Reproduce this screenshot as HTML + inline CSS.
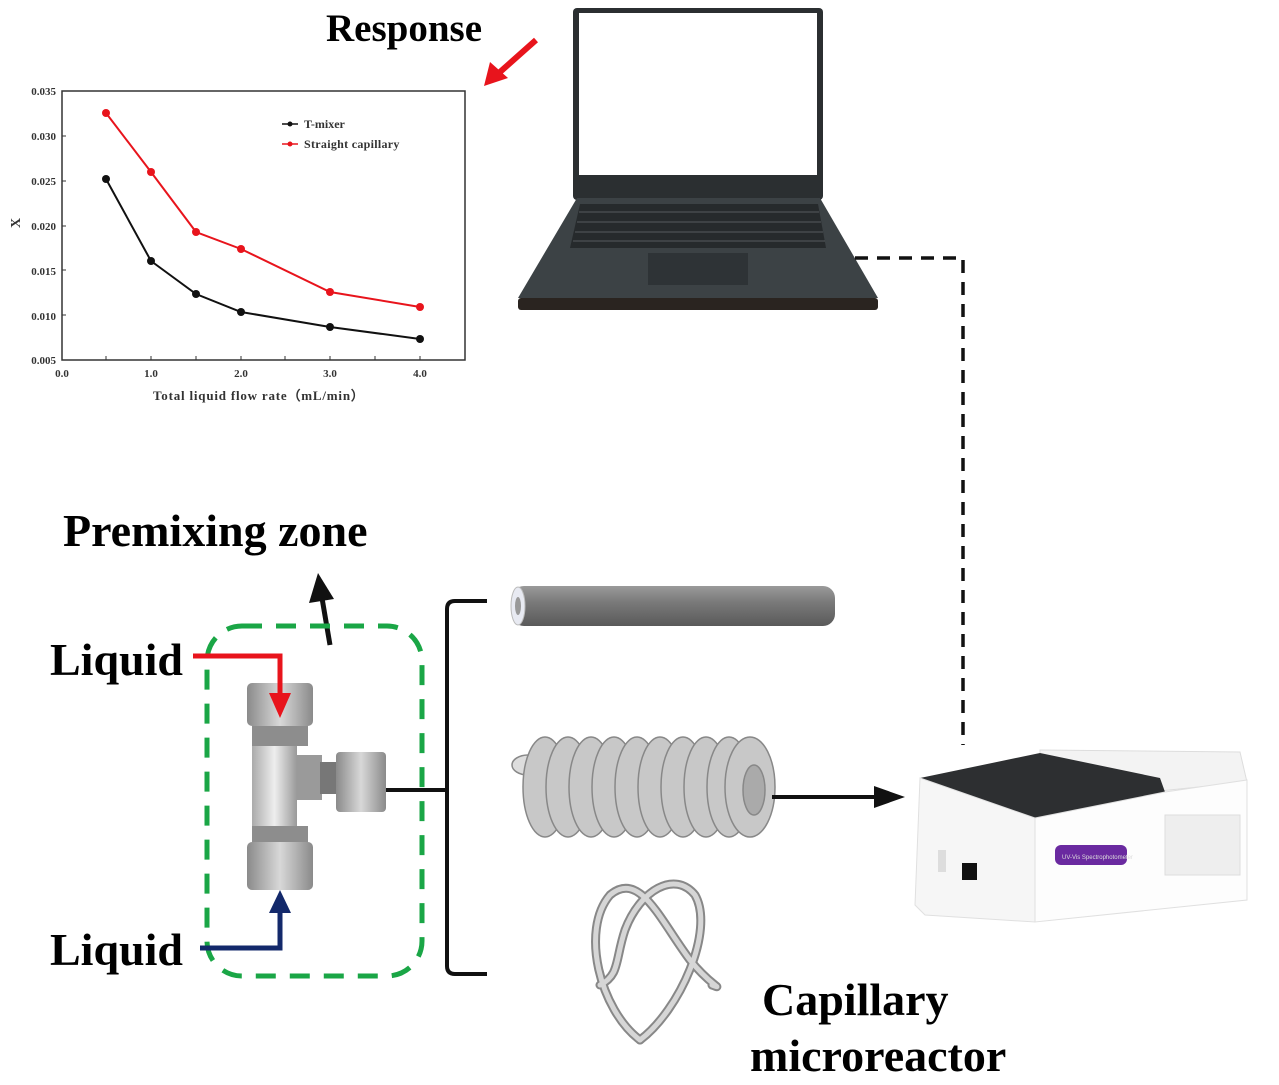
<!DOCTYPE html>
<html><head><meta charset="utf-8"><style>
html,body{margin:0;padding:0;background:#fff;}
svg{display:block;}
text{font-family:"Liberation Serif",serif;}
</style></head><body>
<svg width="1279" height="1085" viewBox="0 0 1279 1085" xmlns="http://www.w3.org/2000/svg">
<defs>
<linearGradient id="tube" x1="0" y1="0" x2="0" y2="1"><stop offset="0" stop-color="#9a9a9a"/><stop offset="0.4" stop-color="#7a7a7a"/><stop offset="1" stop-color="#5a5a5a"/></linearGradient>
<linearGradient id="metal" x1="0" y1="0" x2="1" y2="0"><stop offset="0" stop-color="#8a8a8a"/><stop offset="0.5" stop-color="#d8d8d8"/><stop offset="1" stop-color="#8a8a8a"/></linearGradient>
<linearGradient id="ring" x1="0" y1="0" x2="1" y2="0"><stop offset="0" stop-color="#aaa"/><stop offset="0.5" stop-color="#eee"/><stop offset="1" stop-color="#999"/></linearGradient>
</defs>

<!-- Response -->
<text x="326" y="41" font-size="39" font-weight="bold">Response</text>
<line x1="536" y1="40" x2="500" y2="72" stroke="#e8141c" stroke-width="6"/>
<polygon points="484,86 490,62 508,78" fill="#e8141c"/>

<!-- Chart -->
<rect x="62" y="91" width="403" height="269" fill="none" stroke="#333" stroke-width="1.5"/>
<g font-size="11" font-weight="bold" fill="#333">
<text x="56" y="95" text-anchor="end">0.035</text>
<text x="56" y="140" text-anchor="end">0.030</text>
<text x="56" y="185" text-anchor="end">0.025</text>
<text x="56" y="230" text-anchor="end">0.020</text>
<text x="56" y="275" text-anchor="end">0.015</text>
<text x="56" y="320" text-anchor="end">0.010</text>
<text x="56" y="364" text-anchor="end">0.005</text>
<text x="62" y="377" text-anchor="middle">0.0</text>
<text x="151" y="377" text-anchor="middle">1.0</text>
<text x="241" y="377" text-anchor="middle">2.0</text>
<text x="330" y="377" text-anchor="middle">3.0</text>
<text x="420" y="377" text-anchor="middle">4.0</text>
<text x="153" y="400" font-size="13" letter-spacing="0.8">Total liquid flow rate（mL/min）</text>
<text x="16" y="232" font-size="14" transform="rotate(-90 16 228)">X</text>
</g>
<g stroke="#333" stroke-width="1">
<line x1="62" y1="136" x2="66" y2="136"/><line x1="62" y1="181" x2="66" y2="181"/><line x1="62" y1="226" x2="66" y2="226"/><line x1="62" y1="270" x2="66" y2="270"/><line x1="62" y1="315" x2="66" y2="315"/>
<line x1="106" y1="360" x2="106" y2="356"/><line x1="151" y1="360" x2="151" y2="356"/><line x1="196" y1="360" x2="196" y2="356"/><line x1="241" y1="360" x2="241" y2="356"/><line x1="285" y1="360" x2="285" y2="356"/><line x1="330" y1="360" x2="330" y2="356"/><line x1="375" y1="360" x2="375" y2="356"/><line x1="420" y1="360" x2="420" y2="356"/>
</g>
<polyline points="106,179 151,261 196,294 241,312 330,327 420,339" fill="none" stroke="#111" stroke-width="2"/>
<polyline points="106,113 151,172 196,232 241,249 330,292 420,307" fill="none" stroke="#e8141c" stroke-width="2"/>
<g fill="#111"><circle cx="106" cy="179" r="4"/><circle cx="151" cy="261" r="4"/><circle cx="196" cy="294" r="4"/><circle cx="241" cy="312" r="4"/><circle cx="330" cy="327" r="4"/><circle cx="420" cy="339" r="4"/></g>
<g fill="#e8141c"><circle cx="106" cy="113" r="4"/><circle cx="151" cy="172" r="4"/><circle cx="196" cy="232" r="4"/><circle cx="241" cy="249" r="4"/><circle cx="330" cy="292" r="4"/><circle cx="420" cy="307" r="4"/></g>
<line x1="282" y1="124" x2="298" y2="124" stroke="#111" stroke-width="1.5"/><circle cx="290" cy="124" r="2.5" fill="#111"/>
<line x1="282" y1="144" x2="298" y2="144" stroke="#e8141c" stroke-width="1.5"/><circle cx="290" cy="144" r="2.5" fill="#e8141c"/>
<text x="304" y="128" font-size="12" font-weight="bold" fill="#333">T-mixer</text>
<text x="304" y="148" font-size="12" font-weight="bold" fill="#333" letter-spacing="0.3">Straight capillary</text>

<!-- Laptop -->
<rect x="573" y="8" width="250" height="192" rx="4" fill="#2b2f31"/>
<rect x="579" y="13" width="238" height="162" fill="#fff"/>
<polygon points="577,198 820,198 878,298 518,298" fill="#3c4245"/>
<rect x="518" y="298" width="360" height="12" rx="3" fill="#2a2420"/>
<polygon points="580,204 818,204 826,248 570,248" fill="#262a2c"/>
<g stroke="#555b5e" stroke-width="1">
<line x1="579" y1="212" x2="819" y2="212"/><line x1="577" y1="222" x2="821" y2="222"/><line x1="575" y1="232" x2="823" y2="232"/><line x1="573" y1="241" x2="825" y2="241"/>
</g>
<rect x="648" y="253" width="100" height="32" fill="#2e3336"/>

<!-- dashed connection -->
<polyline points="855,258 963,258 963,745" fill="none" stroke="#111" stroke-width="3.5" stroke-dasharray="13,9"/>

<!-- Premixing -->
<text x="63" y="546" font-size="46" font-weight="bold">Premixing zone</text>
<line x1="330" y1="645" x2="322" y2="598" stroke="#111" stroke-width="5"/>
<polygon points="318,573 309,603 334,599" fill="#111"/>
<rect x="207" y="626" width="215" height="350" rx="35" fill="none" stroke="#1aa646" stroke-width="5" stroke-dasharray="20,14"/>

<!-- T fitting -->
<rect x="247" y="683" width="66" height="43" rx="5" fill="url(#metal)"/>
<rect x="252" y="726" width="56" height="20" fill="#8d8d8d"/>
<rect x="252" y="746" width="45" height="80" fill="url(#ring)"/>
<rect x="297" y="755" width="25" height="45" fill="#9a9a9a"/>
<rect x="320" y="762" width="18" height="32" fill="#777"/>
<rect x="336" y="752" width="50" height="60" rx="4" fill="url(#metal)"/>
<rect x="252" y="826" width="56" height="16" fill="#8d8d8d"/>
<rect x="247" y="842" width="66" height="48" rx="5" fill="url(#metal)"/>

<!-- liquid arrows -->
<text x="50" y="675" font-size="46" font-weight="bold">Liquid</text>
<text x="50" y="965" font-size="46" font-weight="bold">Liquid</text>
<polyline points="193,656 280,656 280,695" fill="none" stroke="#e8141c" stroke-width="5"/>
<polygon points="269,693 291,693 280,718" fill="#e8141c"/>
<polyline points="200,948 280,948 280,912" fill="none" stroke="#13296b" stroke-width="5"/>
<polygon points="269,913 291,913 280,890" fill="#13296b"/>

<!-- bracket -->
<line x1="386" y1="790" x2="447" y2="790" stroke="#111" stroke-width="4"/>
<path d="M487,601 H455 Q447,601 447,609 V966 Q447,974 455,974 H487" fill="none" stroke="#111" stroke-width="4"/>

<!-- straight tube -->
<rect x="512" y="586" width="323" height="40" rx="12" fill="url(#tube)"/>
<ellipse cx="518" cy="606" rx="7" ry="19" fill="#e8eaf2" stroke="#bbb"/>
<ellipse cx="518" cy="606" rx="3" ry="9" fill="#999"/>

<!-- coil -->
<g fill="#c8c8c8" stroke="#888" stroke-width="1.5">
<ellipse cx="528" cy="765" rx="16" ry="10" fill="#ddd"/>
<ellipse cx="545" cy="787" rx="22" ry="50"/>
<ellipse cx="568" cy="787" rx="22" ry="50"/>
<ellipse cx="591" cy="787" rx="22" ry="50"/>
<ellipse cx="614" cy="787" rx="22" ry="50"/>
<ellipse cx="637" cy="787" rx="22" ry="50"/>
<ellipse cx="660" cy="787" rx="22" ry="50"/>
<ellipse cx="683" cy="787" rx="22" ry="50"/>
<ellipse cx="706" cy="787" rx="22" ry="50"/>
<ellipse cx="729" cy="787" rx="22" ry="50"/>
<ellipse cx="750" cy="787" rx="25" ry="50"/>
<ellipse cx="754" cy="790" rx="11" ry="25" fill="#aaa"/>
</g>
<line x1="772" y1="797" x2="880" y2="797" stroke="#111" stroke-width="4"/>
<polygon points="905,797 874,786 874,808" fill="#111"/>

<!-- knot -->
<g fill="none" stroke="#888" stroke-width="9" stroke-linecap="round">
<path d="M640,1040 C600,1010 580,930 610,895 C640,870 660,920 690,960 C710,985 725,990 712,985"/>
<path d="M640,1040 C680,1010 715,930 695,895 C675,870 640,890 625,930 C615,960 620,975 600,985"/>
</g>
<g fill="none" stroke="#d6d6d6" stroke-width="5" stroke-linecap="round">
<path d="M640,1040 C600,1010 580,930 610,895 C640,870 660,920 690,960 C710,985 725,990 712,985"/>
<path d="M640,1040 C680,1010 715,930 695,895 C675,870 640,890 625,930 C615,960 620,975 600,985"/>
</g>
<text x="762" y="1015" font-size="46" font-weight="bold">Capillary</text>
<text x="750" y="1071" font-size="46" font-weight="bold">microreactor</text>

<!-- instrument -->
<polygon points="1040,750 1240,752 1247,782 1150,792 1040,770" fill="#f3f3f3" stroke="#ddd"/>
<polygon points="920,778 1040,753 1160,778 1165,792 1035,818" fill="#2d2f31"/>
<polygon points="920,778 1035,818 1035,922 925,915 915,905" fill="#f6f6f6" stroke="#e0e0e0"/>
<polygon points="1035,818 1165,792 1247,780 1247,900 1035,922" fill="#fdfdfd" stroke="#e0e0e0"/>
<rect x="1165" y="815" width="75" height="60" fill="#eee" stroke="#ddd"/>
<rect x="1055" y="845" width="72" height="20" rx="6" fill="#6a2aa0"/>
<text x="1062" y="859" font-size="6" fill="#ddd" style="font-family:'Liberation Sans',sans-serif">UV-Vis Spectrophotometer</text>
<rect x="962" y="863" width="15" height="17" fill="#111"/>
<rect x="938" y="850" width="8" height="22" fill="#ddd"/>
</svg>
</body></html>
